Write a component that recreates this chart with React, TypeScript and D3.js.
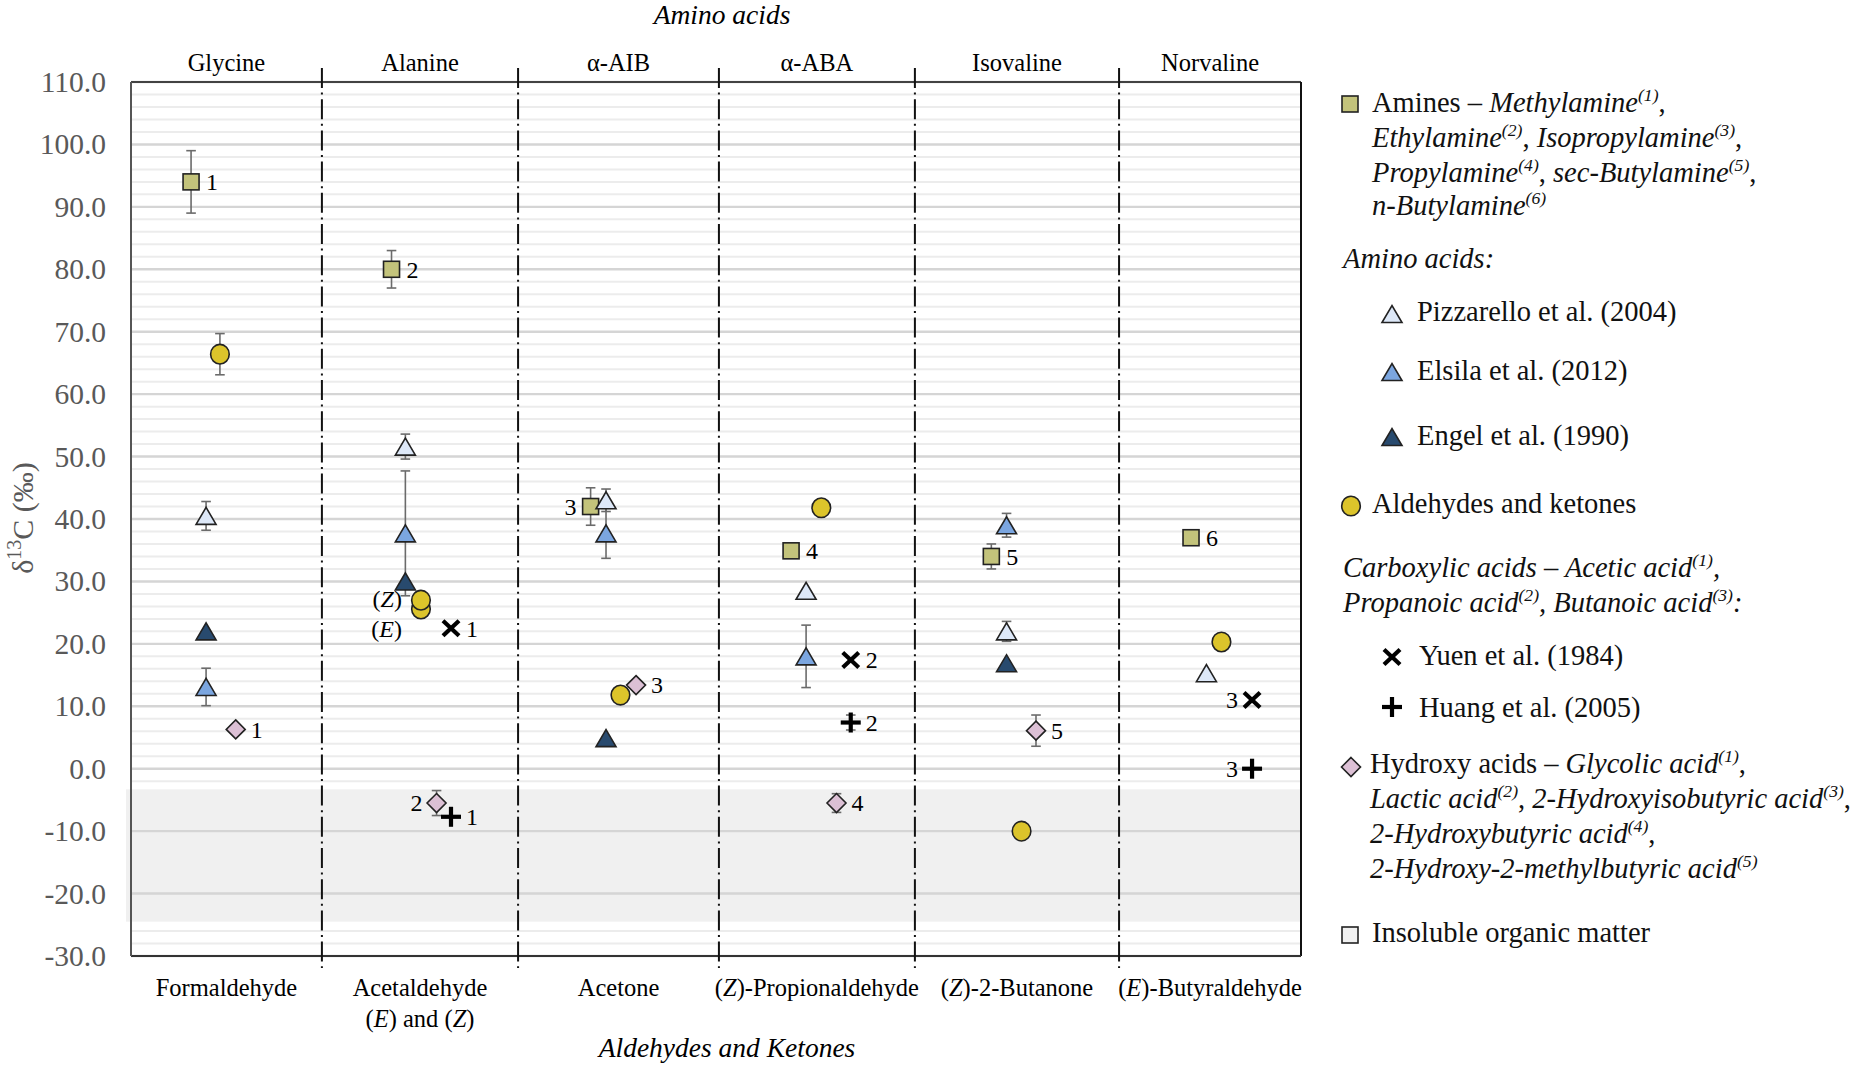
import React from 'react';
import * as d3 from 'd3';

// ---------------- DATA ----------------
const topCategories = ['Glycine', 'Alanine', 'α-AIB', 'α-ABA', 'Isovaline', 'Norvaline'];
// "_" toggles italic
const bottomCategories = [
  ['Formaldehyde'],
  ['Acetaldehyde', '(_E_) and (_Z_)'],
  ['Acetone'],
  ['(_Z_)-Propionaldehyde'],
  ['(_Z_)-2-Butanone'],
  ['(_E_)-Butyraldehyde'],
];
// column boundaries in category units
const dividerPositions = [0.979, 1.985, 3.015, 4.02, 5.067];
const yTicks = d3.range(-30, 111, 10);
const yMinorTicks = d3.range(-30, 111, 2).filter((v) => v % 10 !== 0);
const iomRange = [-24.5, -3.3];

// Amines
const aminesX = [0.308, 1.336, 2.357, 3.385, 4.412, 5.436];
const aminesY = [94.0, 80.0, 42.0, 34.9, 34.0, 37.0];
const aminesErr = [5.0, 3.0, 3.0, 0, 2.0, 0];
const aminesLabel = ['1', '2', '3', '4', '5', '6'];
const aminesSide = ['r', 'r', 'l', 'r', 'r', 'r'];

// Amino acids – Pizzarello et al. (2004)
const pizzX = [0.385, 1.407, 2.436, 3.462, 4.49, 5.515];
const pizzY = [40.5, 51.6, 43.0, 28.5, 22.0, 15.3];
const pizzErr = [2.3, 2.0, 1.8, 0, 1.6, 0];

// Amino acids – Elsila et al. (2012)
const elsX = [0.385, 1.407, 2.436, 3.462, 4.49];
const elsY = [13.1, 37.7, 37.7, 18.0, 39.0];
const elsErr = [3.0, 10.0, 4.0, 5.0, 1.9];

// Amino acids – Engel et al. (1990)
const engX = [0.385, 1.407, 2.436, 4.49];
const engY = [22.0, 30.0, 4.9, 16.9];

// Aldehydes and ketones
const aldX = [0.456, 1.487, 1.487, 2.51, 3.54, 4.567, 5.592];
const aldY = [66.4, 25.6, 27.0, 11.8, 41.8, -10.0, 20.3];
const aldErr = [3.3, 0, 0, 0, 0, 0, 0];

// Carboxylic acids – Yuen et al. (1984)
const yuenX = [1.641, 3.691, 5.749];
const yuenY = [22.5, 17.4, 11.0];
const yuenLabel = ['1', '2', '3'];
const yuenSide = ['r', 'r', 'l'];

// Carboxylic acids – Huang et al. (2005)
const huangX = [1.641, 3.691, 5.749];
const huangY = [-7.7, 7.4, 0.0];
const huangErr = [0, 1.2, 0];
const huangLabel = ['1', '2', '3'];
const huangSide = ['r', 'r', 'l'];

// Hydroxy acids
const hydX = [0.537, 1.567, 2.59, 3.618, 4.641];
const hydY = [6.3, -5.5, 13.4, -5.5, 6.1];
const hydErr = [0, 2.0, 0, 1.5, 2.5];
const hydLabel = ['1', '2', '3', '4', '5'];
const hydSide = ['r', 'l', 'r', 'r', 'r'];

// isomer annotations (Acetaldehyde)
const isomerText = ['(_Z_)', '(_E_)'];
const isomerX = [1.415, 1.415];
const isomerY = [27.3, 22.5];

// ---------------- STYLE ----------------
const FONT = '"Liberation Serif", "Times New Roman", serif';
const C = {
  amine: '#c3c37b',
  pizz: '#dde8f8',
  els: '#7ba6e0',
  eng: '#284a6e',
  ald: '#dcc42b',
  hyd: '#dcc0d5',
  iom: '#f0f0f0',
};

function Rich({ text, size }: { text: string; size: number }) {
  const parts: { t: string; italic: boolean; sup: boolean }[] = [];
  let italic = false,
    sup = false,
    buf = '';
  const flush = () => {
    if (!buf) return;
    parts.push({ t: buf, italic, sup });
    buf = '';
  };
  for (const ch of text) {
    if (ch === '_') {
      flush();
      italic = !italic;
    } else if (ch === '^') {
      flush();
      sup = !sup;
    } else buf += ch;
  }
  flush();
  let cur = 0;
  return (
    <>
      {parts.map((p, i) => {
        const target = p.sup ? -size * 0.38 : 0;
        const dy = target - cur;
        cur = target;
        return (
          <tspan
            key={i}
            dy={dy !== 0 ? dy : undefined}
            fontStyle={p.italic ? 'italic' : 'normal'}
            fontSize={p.sup ? size * 0.62 : undefined}
          >
            {p.t}
          </tspan>
        );
      })}
    </>
  );
}

function Marker({ shape, cx, cy, fill }: { shape: string; cx: number; cy: number; fill?: string }) {
  const sw = 1.6;
  const st = '#222';
  if (shape === 'square')
    return <rect x={cx - 8} y={cy - 8} width={16} height={16} fill={fill} stroke={st} strokeWidth={sw} />;
  if (shape === 'tri')
    return (
      <polygon
        points={`${cx - 10},${cy + 8.5} ${cx + 10},${cy + 8.5} ${cx},${cy - 8.5}`}
        fill={fill}
        stroke={st}
        strokeWidth={sw}
        strokeLinejoin="miter"
      />
    );
  if (shape === 'circle')
    return <ellipse cx={cx} cy={cy} rx={9.3} ry={9.8} fill={fill} stroke={st} strokeWidth={sw} />;
  if (shape === 'diamond')
    return (
      <polygon
        points={`${cx},${cy - 9.5} ${cx + 9.5},${cy} ${cx},${cy + 9.5} ${cx - 9.5},${cy}`}
        fill={fill}
        stroke={st}
        strokeWidth={sw}
      />
    );
  if (shape === 'x')
    return (
      <g stroke="#000" strokeWidth={4.2}>
        <line x1={cx - 8} y1={cy - 7.5} x2={cx + 8} y2={cy + 7.5} />
        <line x1={cx - 8} y1={cy + 7.5} x2={cx + 8} y2={cy - 7.5} />
      </g>
    );
  if (shape === 'plus')
    return (
      <g stroke="#000" strokeWidth={4.2}>
        <line x1={cx - 10} y1={cy} x2={cx + 10} y2={cy} />
        <line x1={cx} y1={cy - 10} x2={cx} y2={cy + 10} />
      </g>
    );
  return null;
}

type Pt = { x: number; y: number; err?: number; label?: string; side?: string };
const zip = (xs: number[], ys: number[], errs?: number[], labels?: string[], sides?: string[]): Pt[] =>
  xs.map((x, i) => ({ x, y: ys[i], err: errs ? errs[i] : 0, label: labels ? labels[i] : undefined, side: sides ? sides[i] : undefined }));

const series = [
  { shape: 'square', fill: C.amine, pts: zip(aminesX, aminesY, aminesErr, aminesLabel, aminesSide) },
  { shape: 'tri', fill: C.pizz, pts: zip(pizzX, pizzY, pizzErr) },
  { shape: 'tri', fill: C.els, pts: zip(elsX, elsY, elsErr) },
  { shape: 'tri', fill: C.eng, pts: zip(engX, engY) },
  { shape: 'circle', fill: C.ald, pts: zip(aldX, aldY, aldErr) },
  { shape: 'x', fill: '#000', pts: zip(yuenX, yuenY, undefined, yuenLabel, yuenSide) },
  { shape: 'plus', fill: '#000', pts: zip(huangX, huangY, huangErr, huangLabel, huangSide) },
  { shape: 'diamond', fill: C.hyd, pts: zip(hydX, hydY, hydErr, hydLabel, hydSide) },
];

export default function App() {
  const W = 1865,
    H = 1068;
  const left = 131,
    right = 1301,
    top = 82,
    bottom = 956;
  const x = d3.scaleLinear().domain([0, 6]).range([left, right]);
  const y = d3.scaleLinear().domain([-30, 110]).range([bottom, top]);
  const bounds = [0, ...dividerPositions, 6];
  const centers = topCategories.map((_, i) => (bounds[i] + bounds[i + 1]) / 2);
  const fmt = (v: number) => d3.format('.1f')(v).replace('\u2212', '-');

  const legendText = { fontFamily: FONT, fontSize: 28.5, fill: '#111' } as const;

  return (
    <svg
      width={W}
      height={H}
      style={{ position: 'absolute', left: 0, top: 0, display: 'block', background: '#fff' }}
      fontFamily={FONT}
    >
      <rect x={0} y={0} width={W} height={H} fill="#fff" />
      {/* minor gridlines */}
      {yMinorTicks.map((v) => (
        <line key={'mn' + v} x1={left} x2={right} y1={y(v)} y2={y(v)} stroke="#ececec" strokeWidth={2} />
      ))}
      {/* IOM band */}
      <rect
        x={left - 5}
        y={y(iomRange[1])}
        width={right - left + 5}
        height={y(iomRange[0]) - y(iomRange[1])}
        fill={C.iom}
      />
      {/* major gridlines */}
      {yTicks.map((v) => (
        <line key={'mj' + v} x1={left} x2={right} y1={y(v)} y2={y(v)} stroke="#d5d5d5" strokeWidth={2.4} />
      ))}
      {/* y tick labels */}
      {yTicks.map((v) => (
        <text
          key={'yt' + v}
          x={106}
          y={y(v)}
          dy="0.34em"
          textAnchor="end"
          fontSize={29.5}
          fill="#595959"
        >
          {fmt(v)}
        </text>
      ))}
      {/* y axis title */}
      <text transform={`translate(33,518) rotate(-90)`} textAnchor="middle" fontSize={30} fill="#595959">
        δ<tspan dy={-12} fontSize={20}>13</tspan>
        <tspan dy={12}>C (‰)</tspan>
      </text>

      {/* frame */}
      <line x1={left} x2={right} y1={top} y2={top} stroke="#111" strokeWidth={1.6} />
      <line x1={right} x2={right} y1={top} y2={bottom} stroke="#111" strokeWidth={2} />
      <line x1={left} x2={right} y1={bottom} y2={bottom} stroke="#333" strokeWidth={2} />
      <line x1={left} x2={left} y1={top} y2={bottom} stroke="#555" strokeWidth={2} />

      {/* dividers */}
      {dividerPositions.map((d, i) => (
        <line
          key={'dv' + i}
          x1={x(d)}
          x2={x(d)}
          y1={68}
          y2={968}
          stroke="#111"
          strokeWidth={2}
          strokeDasharray="20 4.6 2 4.6"
        />
      ))}

      {/* top category labels */}
      {topCategories.map((c, i) => (
        <text key={'tc' + i} x={x(centers[i])} y={71} textAnchor="middle" fontSize={24.5} fill="#000">
          {c}
        </text>
      ))}
      {/* bottom category labels */}
      {bottomCategories.map((lines, i) =>
        lines.map((ln, j) => (
          <text
            key={'bc' + i + '_' + j}
            x={x(centers[i])}
            y={996 + j * 31}
            textAnchor="middle"
            fontSize={24.5}
            fill="#000"
          >
            <Rich text={ln} size={24.5} />
          </text>
        ))
      )}

      {/* titles */}
      <text x={722} y={24} textAnchor="middle" fontSize={27.5} fontStyle="italic" fill="#000">
        Amino acids
      </text>
      <text x={727} y={1057} textAnchor="middle" fontSize={27.5} fontStyle="italic" fill="#000">
        Aldehydes and Ketones
      </text>

      {/* error bars */}
      {series.map((s, si) =>
        s.pts
          .filter((p) => p.err && p.err > 0)
          .map((p, pi) => {
            const cx = x(p.x);
            const y1 = y(p.y + (p.err as number));
            const y2 = y(p.y - (p.err as number));
            return (
              <g key={'eb' + si + '_' + pi} stroke="#6b6b6b" strokeWidth={1.6}>
                <line x1={cx} x2={cx} y1={y1} y2={y2} />
                <line x1={cx - 4.8} x2={cx + 4.8} y1={y1} y2={y1} />
                <line x1={cx - 4.8} x2={cx + 4.8} y1={y2} y2={y2} />
              </g>
            );
          })
      )}

      {/* markers */}
      {series.map((s, si) =>
        s.pts.map((p, pi) => (
          <Marker key={'mk' + si + '_' + pi} shape={s.shape} cx={x(p.x)} cy={y(p.y)} fill={s.fill} />
        ))
      )}

      {/* point labels */}
      {series.map((s, si) =>
        s.pts
          .filter((p) => p.label)
          .map((p, pi) => (
            <text
              key={'pl' + si + '_' + pi}
              x={x(p.x) + (p.side === 'l' ? -14 : 15)}
              y={y(p.y)}
              dy="0.35em"
              textAnchor={p.side === 'l' ? 'end' : 'start'}
              fontSize={24}
              fill="#000"
            >
              {p.label}
            </text>
          ))
      )}

      {/* isomer annotations */}
      {isomerText.map((t, i) => (
        <text
          key={'iso' + i}
          x={x(isomerX[i]) - 5}
          y={y(isomerY[i])}
          dy="0.35em"
          textAnchor="end"
          fontSize={24}
          fill="#000"
        >
          <Rich text={t} size={24} />
        </text>
      ))}

      {/* legend */}
      <g>
        <Marker shape="square" cx={1350} cy={104} fill={C.amine} />
        <text x={1372} y={112} {...legendText}>
          <Rich text={'Amines – _Methylamine_^_(1)_^,'} size={28.5} />
        </text>
        <text x={1372} y={147} {...legendText}>
          <Rich text={'_Ethylamine_^_(2)_^, _Isopropylamine_^_(3)_^,'} size={28.5} />
        </text>
        <text x={1372} y={182} {...legendText}>
          <Rich text={'_Propylamine_^_(4)_^, _sec-Butylamine_^_(5)_^,'} size={28.5} />
        </text>
        <text x={1372} y={215} {...legendText}>
          <Rich text={'_n-Butylamine_^_(6)_^'} size={28.5} />
        </text>
        <text x={1343} y={268} {...legendText} fontStyle="italic">
          Amino acids:
        </text>

        <Marker shape="tri" cx={1392} cy={314} fill={C.pizz} />
        <text x={1417} y={321} {...legendText}>
          Pizzarello et al. (2004)
        </text>
        <Marker shape="tri" cx={1392} cy={372} fill={C.els} />
        <text x={1417} y={380} {...legendText}>
          Elsila et al. (2012)
        </text>
        <Marker shape="tri" cx={1392} cy={437} fill={C.eng} />
        <text x={1417} y={445} {...legendText}>
          Engel et al. (1990)
        </text>

        <Marker shape="circle" cx={1351} cy={506} fill={C.ald} />
        <text x={1372} y={513} {...legendText}>
          Aldehydes and ketones
        </text>

        <text x={1343} y={577} {...legendText}>
          <Rich text={'_Carboxylic acids – Acetic acid_^_(1)_^_,_'} size={28.5} />
        </text>
        <text x={1343} y={612} {...legendText}>
          <Rich text={'_Propanoic acid_^_(2)_^_, Butanoic acid_^_(3)_^_:_'} size={28.5} />
        </text>

        <Marker shape="x" cx={1392} cy={657} />
        <text x={1419} y={665} {...legendText}>
          Yuen et al. (1984)
        </text>
        <Marker shape="plus" cx={1392} cy={707} />
        <text x={1419} y={717} {...legendText}>
          Huang et al. (2005)
        </text>

        <Marker shape="diamond" cx={1351} cy={767} fill={C.hyd} />
        <text x={1370} y={773} {...legendText}>
          <Rich text={'Hydroxy acids – _Glycolic acid_^_(1)_^,'} size={28.5} />
        </text>
        <text x={1370} y={808} {...legendText}>
          <Rich text={'_Lactic acid_^_(2)_^, _2-Hydroxyisobutyric acid_^_(3)_^,'} size={28.5} />
        </text>
        <text x={1370} y={843} {...legendText}>
          <Rich text={'_2-Hydroxybutyric acid_^_(4)_^,'} size={28.5} />
        </text>
        <text x={1370} y={878} {...legendText}>
          <Rich text={'_2-Hydroxy-2-methylbutyric acid_^_(5)_^'} size={28.5} />
        </text>

        <rect x={1342} y={927} width={16} height={16} fill={C.iom} stroke="#222" strokeWidth={1.6} />
        <text x={1372} y={942} {...legendText}>
          Insoluble organic matter
        </text>
      </g>
    </svg>
  );
}
